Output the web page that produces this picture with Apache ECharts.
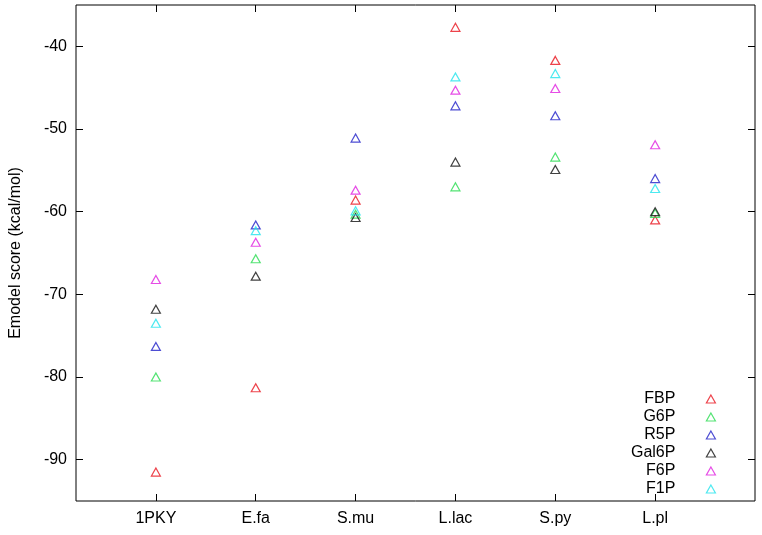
<!DOCTYPE html>
<html>
<head>
<meta charset="utf-8">
<script src="https://cdn.jsdelivr.net/npm/echarts@6/dist/echarts.min.js"></script>
<style>html,body{margin:0;padding:0;background:#fff}#c{width:762px;height:535px}</style>
</head>
<body>
<div id="c"></div>
<script>
const categories = ['1PKY', 'E.fa', 'S.mu', 'L.lac', 'S.py', 'L.pl'];
const seriesNames = ['FBP', 'G6P', 'R5P', 'Gal6P', 'F6P', 'F1P'];
const FBP   = [-91.5, -81.3, -58.6, -37.7, -41.7, -61.0];
const G6P   = [-80.0, -65.7, -60.3, -57.0, -53.4, -60.2];
const R5P   = [-76.3, -61.6, -51.1, -47.2, -48.4, -56.0];
const Gal6P = [-71.8, -67.8, -60.7, -54.0, -54.9, -60.0];
const F6P   = [-68.2, -63.7, -57.4, -45.3, -45.1, -51.9];
const F1P   = [-73.5, -62.3, -59.9, -43.7, -43.3, -57.2];
const yTicks = [-90, -80, -70, -60, -50, -40];

const values = [FBP, G6P, R5P, Gal6P, F6P, F1P];
const colors = ['#e8141e', '#28dc50', '#2020c8', '#111111', '#e020e0', '#20e4ec'];
const xPos = categories.map((c, i) => i + 1);
const font = 'Liberation Sans, Arial, Helvetica, sans-serif';

const chart = echarts.init(document.getElementById('c'), null, {renderer: 'canvas'});
const series = seriesNames.map((n, s) => ({
  name: n,
  type: 'scatter',
  symbol: 'triangle',
  symbolSize: [9, 8],
  itemStyle: {color: 'rgba(0,0,0,0)', borderColor: colors[s], borderWidth: 1.2},
  data: values[s].map((v, i) => [xPos[i], v]),
  z: 10
}));
chart.setOption({
  animation: false,
  backgroundColor: '#fff',
  grid: {left: 73, right: 7, top: 5, bottom: 34, show: true, borderColor: '#000', borderWidth: 1},
  legend: {
    orient: 'vertical', right: 41, top: 386, align: 'right',
    itemWidth: 9, itemHeight: 8, itemGap: 2,
    textStyle: {fontFamily: font, fontSize: 16, color: '#000', padding: [0, 26, 0, 0], lineHeight: 14},
    data: seriesNames.map((n, s) => ({name: n, icon: 'triangle',
      itemStyle: {color: 'rgba(0,0,0,0)', borderColor: colors[s], borderWidth: 1.2}}))
  },
  xAxis: [{
    type: 'value', min: 0.2, max: 7, position: 'bottom',
    axisLine: {show: false}, splitLine: {show: false},
    axisTick: {show: true, inside: true, length: 7, customValues: xPos, lineStyle: {color: '#000'}},
    axisLabel: {customValues: xPos, formatter: v => categories[Math.round(v) - 1] || '',
      fontFamily: font, fontSize: 16, color: '#000', margin: 10}
  }, {
    type: 'value', min: 0.2, max: 7, position: 'top',
    axisLine: {show: false}, splitLine: {show: false},
    axisTick: {show: true, inside: true, length: 7, customValues: xPos, lineStyle: {color: '#000'}},
    axisLabel: {show: false}
  }],
  yAxis: [{
    type: 'value', min: -95, max: -35, position: 'left',
    axisLine: {show: false}, splitLine: {show: false},
    axisTick: {show: true, inside: true, length: 7, customValues: yTicks, lineStyle: {color: '#000'}},
    axisLabel: {customValues: yTicks, fontFamily: font, fontSize: 16, color: '#000', margin: 9},
    name: 'Emodel score (kcal/mol)', nameLocation: 'middle', nameGap: 52,
    nameTextStyle: {fontFamily: font, fontSize: 16, color: '#000'}
  }, {
    type: 'value', min: -95, max: -35, position: 'right',
    axisLine: {show: false}, splitLine: {show: false},
    axisTick: {show: true, inside: true, length: 7, customValues: yTicks, lineStyle: {color: '#000'}},
    axisLabel: {show: false}
  }],
  series: series
});
</script>
</body>
</html>
